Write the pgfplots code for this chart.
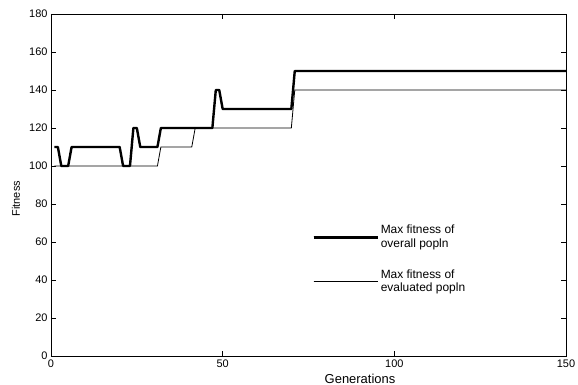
\documentclass[border=0pt]{standalone}
\usepackage{fontspec}
\setmainfont{Liberation Sans}
\usepackage{pgfplots}
\pgfplotsset{compat=1.18}
\begin{document}
\begin{tikzpicture}
\begin{axis}[
  name=ax,
  scale only axis,
  width=515bp, height=342bp,
  xmin=0, xmax=150, ymin=0, ymax=180,
  xtick={0,50,100,150},
  ytick={0,20,...,180},
  tick align=inside,
  major tick length=5bp,
  axis line style={line width=0.8bp},
  every tick/.style={black, line width=0.6bp},
  /pgf/number format/assume math mode=true,
  ticklabel style={font=\fontsize{11}{13}\selectfont},
  xlabel={Generations},
  ylabel={Fitness},
  xlabel style={font=\fontsize{13}{15}\selectfont, at={(rel axis cs:0.6,0)}, anchor=base, yshift=-27bp},
  ylabel style={font=\fontsize{11}{13}\selectfont, at={(rel axis cs:0,0.46)}, anchor=base, yshift=31bp},
  legend style={draw=none, fill=none, at={(axis cs:75.2,71)}, anchor=north west,
    font=\fontsize{12}{14}\selectfont, nodes={align=left}, row sep=16bp},
  legend cell align=left,
  legend image code/.code={\draw[#1] (0bp,0bp) -- (47bp,0bp); \path (0bp,0bp) -- (64bp,0bp);},
]
\addplot[black, line width=2.4bp, line join=round] coordinates {
(1,110)(2,110)(3,100)(5,100)(6,110)(20,110)(21,100)(23,100)(24,120)(25,120)(26,110)(31,110)(32,120)(47,120)(48,140)(49,140)(50,130)(70,130)(71,150)(150,150)
};
\addlegendentry{Max fitness of\\overall popln}
\addplot[black, line width=0.8bp] coordinates {
(1,100)(31,100)(32,110)(41,110)(42,120)(70,120)(71,140)(150,140)
};
\addlegendentry{Max fitness of\\evaluated popln}
\end{axis}
\pgfresetboundingbox
\path ([shift={(-51bp,-29bp)}]ax.south west) rectangle ([shift={(12bp,14bp)}]ax.north east);
\end{tikzpicture}
\end{document}
